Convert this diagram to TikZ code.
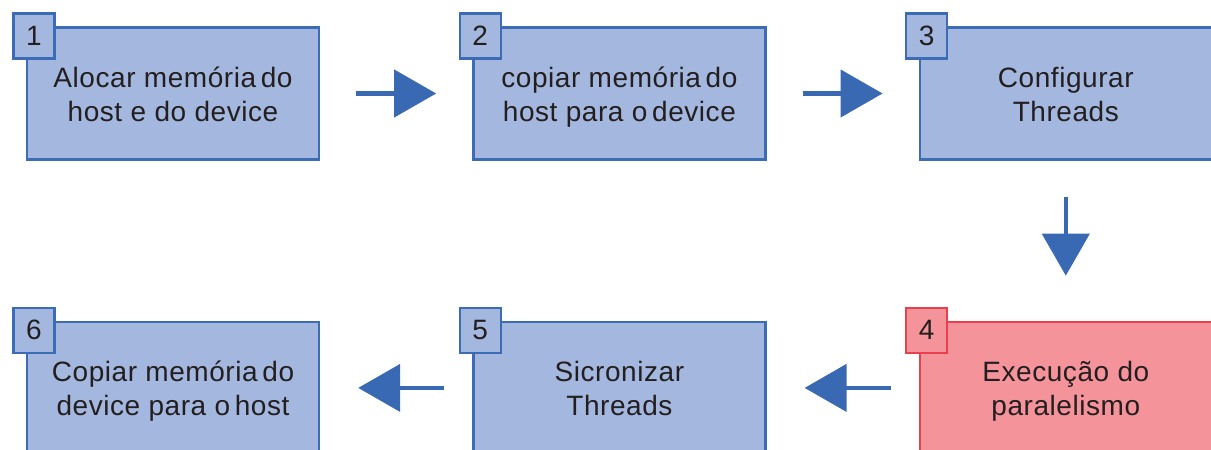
\documentclass[tikz,border=0pt]{standalone}
\usepackage{fontspec}
\setmainfont{Liberation Sans}[LetterSpace=2]
\usepackage{xcolor}
\usetikzlibrary{arrows.meta, positioning}
\definecolor{stepblue}{HTML}{A4B8DF}
\definecolor{stepedge}{HTML}{3B6CB5}
\definecolor{steppink}{HTML}{F4939A}
\definecolor{stepred}{HTML}{EC3F4D}
\definecolor{steptext}{HTML}{231F20}
\definecolor{flowblue}{HTML}{3A69B3}
% two lines with fixed top and bottom room
\newcommand{\steplines}[2]{\rule{0pt}{14pt}#1\\#2\rule[-3.5pt]{0pt}{3.5pt}}

\begin{document}
\begin{tikzpicture}[x=0.5pt, y=-0.5pt,
        stepbox/.style={rectangle, draw=stepedge, fill=stepblue, line width=1.2pt, minimum width=146pt, minimum height=66pt, align=center, text=steptext, font=\fontsize{14}{17}\selectfont},
        hotbox/.style={stepbox, draw=stepred, fill=steppink},
        tag/.style={rectangle, draw=stepedge, fill=stepblue, line width=1.2pt, minimum width=20.5pt, minimum height=22.5pt, inner sep=0pt, text=steptext, font=\fontsize{14}{17}\selectfont},
        hottag/.style={tag, draw=stepred, fill=steppink},
        flow/.style={-{Triangle[length=21pt, width=23.5pt]}, line width=2.2pt, draw=flowblue, shorten <=18pt, shorten >=18pt},
        node distance=80pt and 76pt
    ]
    \useasboundingbox (0,0) rectangle (1211,450);

    % Steps
    \node[stepbox] (b1) at (173,93.5) {\steplines{Alocar memória\,do}{host e do device}};
    \node[stepbox, right=of b1] (b2) {\steplines{copiar memória\,do}{host para o\,device}};
    \node[stepbox, right=of b2] (b3) {\steplines{Configurar}{Threads}};
    \node[hotbox, below=of b3] (b4) {\steplines{Execução do}{paralelismo}};
    \node[stepbox, left=of b4] (b5) {\steplines{Sicronizar}{Threads}};
    \node[stepbox, left=of b5] (b6) {\steplines{Copiar memória\,do}{device para o\,host}};

    % Numbers
    \node[tag] (t1) at ([shift={(8,9.5)}]b1.north west) {1};
    \node[tag] (t2) at ([shift={(8,9.5)}]b2.north west) {2};
    \node[tag] (t3) at ([shift={(8,9.5)}]b3.north west) {3};
    \node[hottag] (t4) at ([shift={(8,9.5)}]b4.north west) {4};
    \node[tag] (t5) at ([shift={(8,9.5)}]b5.north west) {5};
    \node[tag] (t6) at ([shift={(8,9.5)}]b6.north west) {6};

    % Flow
    \draw[flow] (b1) -- (b2);
    \draw[flow] (b2) -- (b3);
    \draw[flow, shorten >=22.5pt] (b3) -- (b4);
    \draw[flow, shorten <=14pt, shorten >=19pt] (b4) -- (b5);
    \draw[flow, shorten <=14pt, shorten >=19pt] (b5) -- (b6);

\end{tikzpicture}
\end{document}
